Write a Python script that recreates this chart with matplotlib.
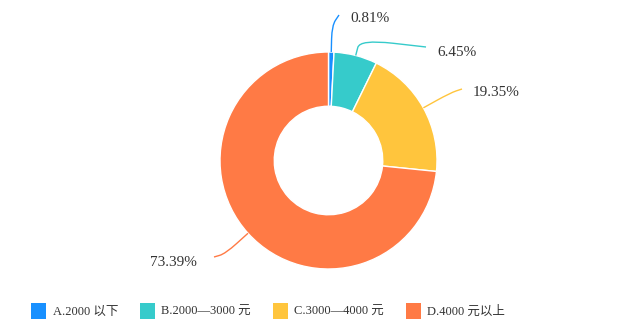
import matplotlib
matplotlib.use('Agg')
import matplotlib.pyplot as plt
from matplotlib.path import Path
from matplotlib.patches import PathPatch, Patch
import numpy as np

plt.rcParams['font.family'] = ['Liberation Serif', 'Noto Sans CJK SC', 'DejaVu Sans']

categories = ['A.2000 以下', 'B.2000—3000 元', 'C.3000—4000 元', 'D.4000 元以上']
values = [0.81, 6.45, 19.35, 73.39]
value_labels = ['0.81%', '6.45%', '19.35%', '73.39%']
colors = ['#1890FF', '#36CBCB', '#FFC53D', '#FF7A45']

W, H = 638, 333
fig = plt.figure(figsize=(W / 100, H / 100), dpi=100)
ax = fig.add_axes([0, 0, 1, 1])

cx, cy = 328.5, H - 160.5
R = 108.5
wedges, _ = ax.pie(values, colors=colors, startangle=90, counterclock=False,
                   radius=R, center=(cx, cy),
                   wedgeprops=dict(width=R * 0.5, edgecolor='white', linewidth=1))
ax.set_xlim(0, W)
ax.set_ylim(0, H)
ax.set_aspect('equal')
ax.axis('off')

# label layout: elbow radius, line end (pixel), text anchor (pixel), alignment
layout = [
    (135, (339, 15), (350, 19), 'left'),
    (125, (426, 47), (437, 53), 'left'),
    (139.5, (462, 89), (473, 93), 'left'),
    (139, (214, 257), (197, 262), 'right'),
]

for w, lab, col, (re, end, tpos, ha) in zip(wedges, value_labels, colors, layout):
    mid = np.deg2rad((w.theta1 + w.theta2) / 2)
    d = np.array([np.cos(mid), np.sin(mid)])
    p0 = np.array([cx, cy]) + d * R
    p1 = np.array([cx, cy]) + d * re
    p2 = np.array([end[0], H - end[1]])
    a = p0 + (p1 - p0) * 0.5
    b = p1 + (p2 - p1) * 0.5
    path = Path([p0, a, p1, b, p2],
                [Path.MOVETO, Path.LINETO, Path.CURVE3, Path.CURVE3, Path.LINETO])
    ax.add_patch(PathPatch(path, facecolor='none', edgecolor=col, lw=1.0))
    ax.text(tpos[0], H - tpos[1], lab, ha=ha, va='center', fontsize=11, color='#333333')

handles = [Patch(facecolor=c, edgecolor='none') for c in colors]
leg = ax.legend(handles, categories, loc='center', bbox_to_anchor=(268 / W, 22 / H),
                bbox_transform=fig.transFigure, ncol=4, frameon=False,
                fontsize=9, handlelength=1.2, handleheight=1.47,
                handletextpad=0.5, columnspacing=1.75, labelcolor='#333333')

fig.savefig('out.png', dpi=100)
